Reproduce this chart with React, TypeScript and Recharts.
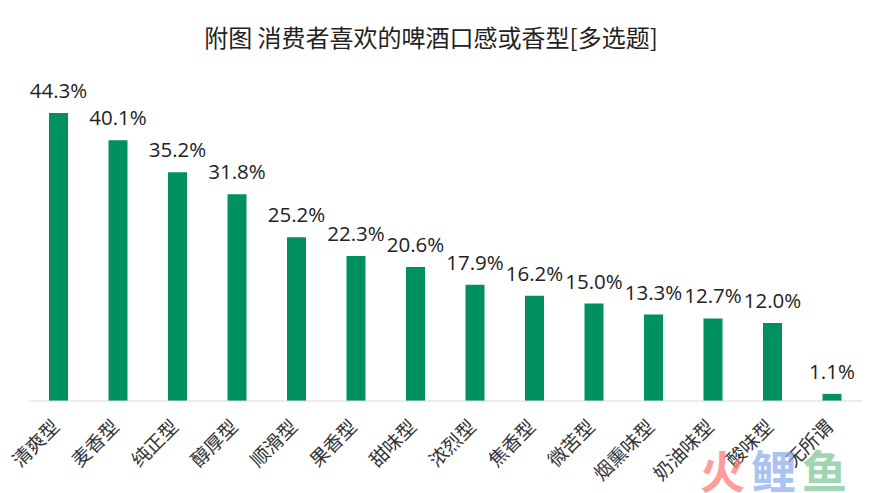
import React from 'react'
import { BarChart, Bar, XAxis, YAxis, LabelList } from 'recharts'

const categories = ['清爽型', '麦香型', '纯正型', '醇厚型', '顺滑型', '果香型', '甜味型', '浓烈型', '焦香型', '微苦型', '烟熏味型', '奶油味型', '酸味型', '无所谓']
const shares = [44.3, 40.1, 35.2, 31.8, 25.2, 22.3, 20.6, 17.9, 16.2, 15.0, 13.3, 12.7, 12.0, 1.1]

const data = categories.map((name, i) => ({ name, share: shares[i] }))

const cjk = '"Noto Sans CJK SC", "Noto Sans", sans-serif'

function SlantTick({ x, y, payload }: any) {
  const tx = x + 2
  const ty = y + 19
  return (
    <text x={tx} y={ty} textAnchor="end" fill="#333" fontSize={19} fontFamily={cjk} transform={`rotate(-45 ${tx} ${ty})`}>
      {payload.value}
    </text>
  )
}

export default function App() {
  return (
    <div style={{ position: 'absolute', left: 0, top: 0, width: 869, height: 493, background: '#fff', overflow: 'hidden' }}>
      <div style={{ position: 'absolute', left: 0, top: 20, width: 862, textAlign: 'center', fontFamily: cjk, fontSize: 24, lineHeight: '34px', color: '#222' }}>
        附图 消费者喜欢的啤酒口感或香型[多选题]
      </div>
      <BarChart width={869} height={493} data={data} margin={{ left: 29, right: 7, top: 76, bottom: 0 }}>
        <YAxis hide domain={[0, 50]} />
        <XAxis dataKey="name" interval={0} height={92} tickLine={false} axisLine={{ stroke: '#d9d9d9' }} tick={SlantTick} />
        <Bar dataKey="share" fill="#00915f" barSize={19} isAnimationActive={false}>
          <LabelList
            dataKey="share"
            position="top"
            offset={15}
            formatter={(v: number) => v.toFixed(1) + '%'}
            style={{ fill: '#222', fontSize: 20.5, fontFamily: '"Open Sans", "Noto Sans", sans-serif' }}
          />
        </Bar>
      </BarChart>
      <div style={{ position: 'absolute', left: 700, top: 446, fontFamily: cjk, fontWeight: 700, fontSize: 45, lineHeight: '47px', letterSpacing: 6, whiteSpace: 'nowrap', opacity: 0.75 }}>
        <span style={{ color: '#ff7b7b' }}>火</span>
        <span style={{ color: '#8fb0f0' }}>鲤</span>
        <span style={{ color: '#7fc796' }}>鱼</span>
      </div>
    </div>
  )
}
